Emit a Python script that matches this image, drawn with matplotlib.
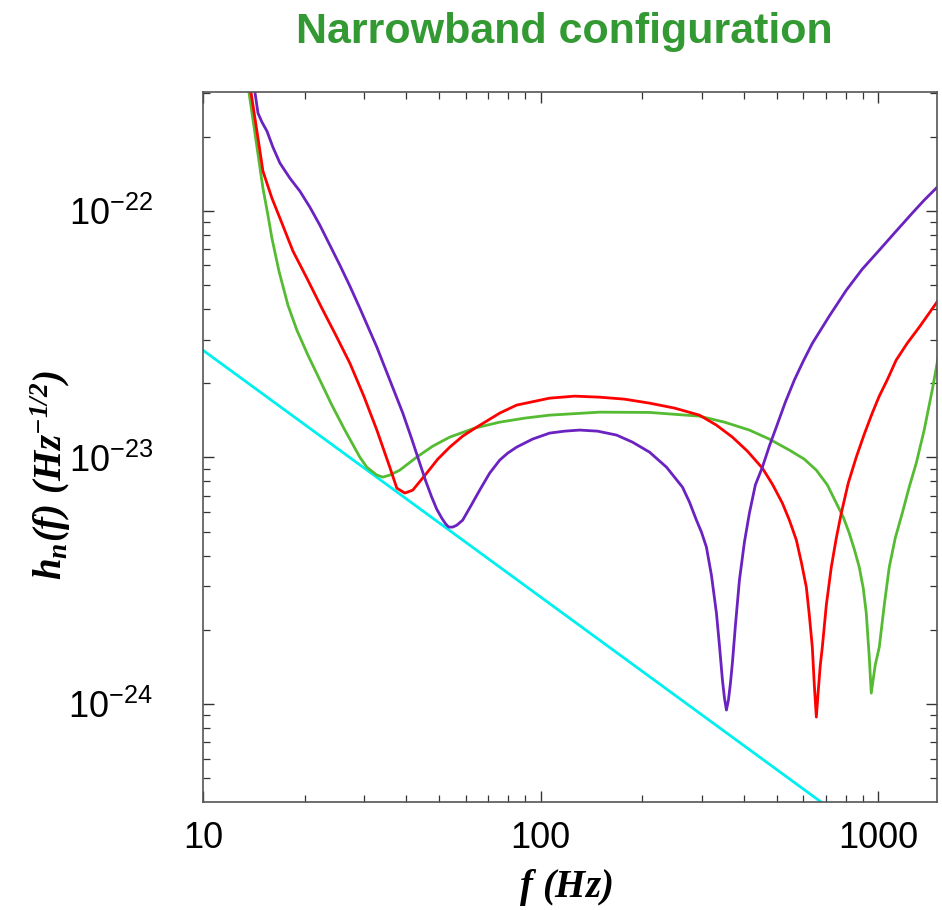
import numpy as np
import matplotlib
matplotlib.use("Agg")
import matplotlib.pyplot as plt
from matplotlib.ticker import LogLocator, FixedLocator, FixedFormatter, LogFormatterMathtext, NullFormatter

plt.rcParams["font.family"] = ["Liberation Sans", "DejaVu Sans"]
plt.rcParams["mathtext.fontset"] = "custom"
plt.rcParams["mathtext.rm"] = "Liberation Sans"
plt.rcParams["mathtext.bf"] = "Liberation Serif:italic:bold"
plt.rcParams["mathtext.it"] = "Liberation Serif:italic:bold"

SCALE = 1e-23  # strain values below are in units of 1e-23 Hz^-1/2

# quantum limit line (1/f)
f_sql = [10, 1500]
h_sql = [2.72, 0.0181]

# detuned signal-recycling curves
f_green = [13.26, 13.68, 14.35, 15.05, 15.57, 16.00, 16.79, 17.85, 18.97, 20.45,
           22.19, 24.08, 26.31, 29.14, 30.56, 32.73, 34.09, 35.75, 38.27, 42.96,
           47.92, 53.81, 63.80, 75.64, 89.68, 106.3, 149.5, 210.1, 295.4, 350.4,
           415.3, 475.8, 545.5, 604.0, 655.6, 706.6, 751.2, 787.8, 820.7, 849.2,
           878.7, 902.9, 921.6, 940.6, 953.5, 979.7, 1007, 1042, 1078, 1123,
           1178, 1235, 1296, 1368, 1445, 1485, 1525]
h_green = [40.78, 30.25, 19.33, 12.35, 9.60, 7.74, 5.69, 4.14, 3.28, 2.60,
           2.06, 1.630, 1.291, 1.003, 0.913, 0.848, 0.832, 0.848, 0.888, 1.003,
           1.111, 1.209, 1.315, 1.390, 1.443, 1.484, 1.526, 1.522, 1.470, 1.390,
           1.291, 1.187, 1.071, 0.984, 0.888, 0.774, 0.653, 0.573, 0.493, 0.425,
           0.359, 0.295, 0.234, 0.155, 0.1108, 0.144, 0.170, 0.252, 0.359, 0.471,
           0.594, 0.758, 0.948, 1.291, 1.874, 2.30, 2.82]

f_red = [13.42, 13.87, 14.55, 15.05, 16.00, 16.90, 18.47, 20.31, 22.49, 24.74,
         27.23, 29.95, 32.73, 35.75, 37.50, 39.60, 41.81, 45.99, 49.58, 53.81,
         58.78, 64.68, 75.64, 84.92, 106.3, 126.1, 149.5, 177.2, 210.1, 249.2,
         295.4, 331.7, 369.8, 409.6, 453.8, 485.6, 520.0, 545.5, 572.2, 591.9,
         612.4, 625.1, 637.9, 646.7, 655.6, 664.5, 673.6, 682.9, 701.8, 726.0,
         751.2, 777.2, 815.1, 860.9, 909.2, 959.9, 1007, 1063, 1130, 1218,
         1322, 1485, 1525]
h_red = [40.78, 30.25, 19.70, 14.47, 11.25, 9.33, 6.86, 5.33, 4.03, 3.13,
         2.41, 1.772, 1.291, 0.913, 0.751, 0.717, 0.737, 0.864, 0.984, 1.101,
         1.220, 1.327, 1.512, 1.630, 1.739, 1.772, 1.755, 1.723, 1.660, 1.585,
         1.484, 1.352, 1.209, 1.061, 0.905, 0.780, 0.653, 0.557, 0.462, 0.376,
         0.298, 0.229, 0.170, 0.1194, 0.0886, 0.1139, 0.144, 0.170, 0.252, 0.359,
         0.471, 0.594, 0.787, 1.003, 1.243, 1.512, 1.772, 2.06, 2.48, 2.90,
         3.37, 4.22, 4.47]

f_purple = [13.81, 14.25, 14.55, 14.95, 15.47, 16.11, 16.90, 18.09, 19.36, 20.73,
            22.19, 23.75, 25.43, 27.23, 29.14, 32.73, 35.75, 39.07, 41.53, 43.85,
            45.68, 47.59, 49.24, 50.94, 52.35, 53.43, 54.91, 56.43, 58.78, 62.09,
            66.00, 70.66, 75.64, 79.89, 84.92, 94.69, 106.3, 117.8, 130.5, 147.5,
            167.9, 187.2, 210.1, 236.0, 263.1, 276.0, 289.4, 299.5, 309.8, 320.6,
            331.7, 338.6, 345.6, 350.4, 355.1, 360.0, 365.0, 369.8, 377.6, 388.0,
            401.5, 415.3, 432.6, 453.8, 475.8, 499.0, 530.8, 564.4, 600.0, 637.9,
            716.1, 804.0, 896.9, 1007, 1130, 1261, 1368, 1485, 1525]
h_purple = [40.78, 30.25, 24.87, 22.87, 21.02, 18.10, 15.60, 13.55, 12.01, 10.34,
            8.74, 7.26, 6.02, 4.95, 4.03, 2.80, 2.06, 1.512, 1.187, 0.948,
            0.802, 0.690, 0.617, 0.568, 0.537, 0.522, 0.522, 0.531, 0.557, 0.635,
            0.737, 0.864, 0.975, 1.041, 1.101, 1.187, 1.255, 1.278, 1.291, 1.278,
            1.232, 1.153, 1.051, 0.913, 0.758, 0.659, 0.557, 0.498, 0.433, 0.333,
            0.234, 0.173, 0.125, 0.1057, 0.0946, 0.1038, 0.1217, 0.1466, 0.209, 0.318,
            0.454, 0.594, 0.774, 0.913, 1.111, 1.327, 1.676, 2.06, 2.46, 2.90,
            3.74, 4.76, 5.80, 6.92, 8.27, 9.78, 11.04, 12.35, 12.82]

x_ticks = [10, 100, 1000]
x_labels = ["10", "100", "1000"]
y_ticks = [1e-24, 1e-23, 1e-22]

fig = plt.figure(figsize=(9.42, 9.10), dpi=100)
ax = fig.add_axes([203 / 942, 1 - 802 / 910, 734 / 942, 710 / 910])

lw = 2.0
ax.plot(f_sql, np.array(h_sql) * SCALE, color="#00F0F0", lw=lw)
ax.plot(f_green, np.array(h_green) * SCALE, color="#55BB33", lw=lw)
ax.plot(f_red, np.array(h_red) * SCALE, color="#FF0000", lw=lw)
ax.plot(f_purple, np.array(h_purple) * SCALE, color="#6A22C0", lw=lw)

ax.set_xscale("log")
ax.set_yscale("log")
ax.set_xlim(10, 1493)
ax.set_ylim(4.01e-25, 3.03e-22)

ax.xaxis.set_major_locator(FixedLocator(x_ticks))
ax.xaxis.set_major_formatter(FixedFormatter(x_labels))
ax.xaxis.set_minor_locator(LogLocator(base=10, subs=np.arange(2, 10)))
ax.xaxis.set_minor_formatter(NullFormatter())
ax.yaxis.set_major_locator(FixedLocator(y_ticks))
ax.yaxis.set_major_formatter(LogFormatterMathtext())
ax.yaxis.set_minor_locator(LogLocator(base=10, subs=np.arange(2, 10)))
ax.yaxis.set_minor_formatter(NullFormatter())

ax.tick_params(which="both", direction="in", top=True, right=True, color="#333333")
ax.tick_params(which="major", length=8, width=1.0, labelsize=26)
ax.tick_params(which="minor", length=5, width=0.9)
ax.tick_params(axis="y", which="major", pad=36)
ax.tick_params(axis="x", which="major", pad=14)
for sp in ax.spines.values():
    sp.set_color("#555555")
    sp.set_linewidth(1.2)

fig.text(564 / 942, 1 - 43 / 910, "Narrowband configuration", color="#339933",
         fontsize=31, fontweight="bold", ha="center", va="baseline")
fig.text(51 / 942, 1 - 475 / 910, r"$\mathbf{h_n(f)\ (Hz^{-1/2})}$", fontsize=28,
         rotation=90, ha="center", va="center")
fig.text(566 / 942, 1 - 888 / 910, r"$\mathbf{f\ (Hz)}$", fontsize=28,
         ha="center", va="center")

fig.savefig("out.png", dpi=100)
